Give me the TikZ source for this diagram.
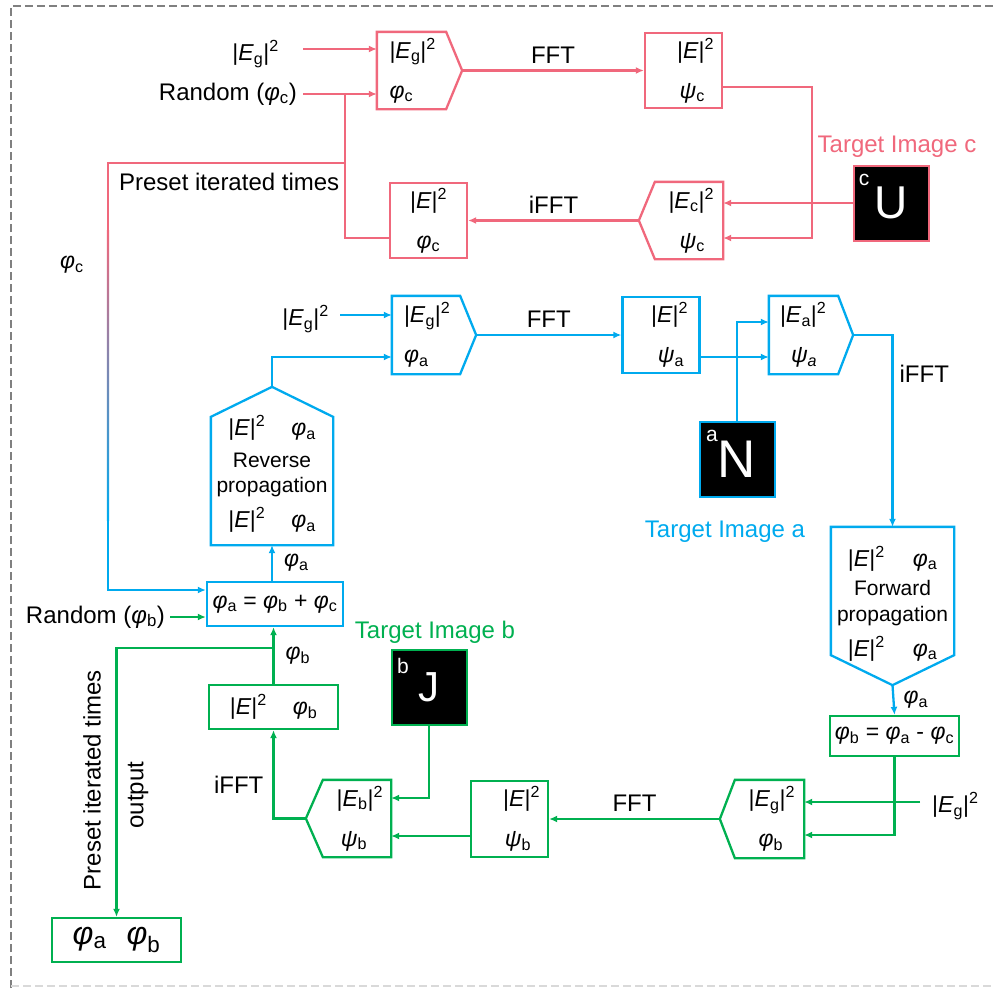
\documentclass[tikz,border=0pt]{standalone}
\usepackage{fontspec}
\setmainfont{Liberation Sans}
\usepackage{tikz}
\usetikzlibrary{arrows.meta,positioning,calc}
\definecolor{pk}{RGB}{240,104,124}
\definecolor{bl}{RGB}{0,170,238}
\definecolor{gr}{RGB}{0,176,80}
\newcommand{\phis}[1]{\textit{φ}\textsubscript{#1}}
\newcommand{\psis}[1]{\textit{ψ}\textsubscript{#1}}
\newcommand{\Esq}[1]{|\textit{E}\textsubscript{#1}|\textsuperscript{2}}
\newcommand{\Eabs}{|\textit{E}|\textsuperscript{2}}
\begin{document}
\begin{tikzpicture}[x=1pt,y=-1pt,line width=2.3pt,>={Latex[length=8pt,width=7pt]},
  every node/.style={font=\fontsize{23}{27}\selectfont,inner sep=1pt,text=black},
  lab/.style={font=\fontsize{24}{28}\selectfont},
  box/.style={minimum width=77,minimum height=75},
  pkb/.style={box,draw=pk}, blb/.style={box,draw=bl}, grb/.style={box,draw=gr},
  tgt/.style={fill=black,minimum size=75,text=white,line width=2pt,font=\fontsize{46}{50}\selectfont},
  tlet/.style={text=white,font=\fontsize{21}{24}\selectfont}]
  \useasboundingbox (0,0) rectangle (995,988);
  \draw[gray,line width=2.6pt,dash pattern=on 8pt off 4pt] (11,988) -- (11,6) -- (995,6);
  \draw[gray!30,line width=2pt,dash pattern=on 8pt off 4pt] (11,986) -- (995,986);

  \node[box,text width=60pt,align=left,minimum width=83] (c1) at (419.5,70.5) {\Esq{g}\\[13pt]\phis{c}};
  \node[pkb,text width=61pt,align=right] (c2) at (683.5,70.5) {\Eabs\\[13pt]\psis{c}\hspace*{9pt}};
  \node[box,text width=66pt,align=right,minimum width=82] (c4) at (681,220.5) {\Esq{c}\\[13pt]\psis{c}\hspace*{9pt}};
  \node[pkb,align=center] (c3) at (428.5,220.5) {\Eabs\\[13pt]\phis{c}};
  \node[tgt,draw=pk] (tc) at (891.5,203) {U};
  \node[tlet] (tcs) at (864,180) {c};
  \node[lab,text=pk] (tcn) at (897,147) {Target Image c};
  \node[anchor=east] (ig1) at (281,54) {\Esq{g}};
  \node[lab,anchor=east] (r1) at (299,94) {Random (\phis{c})};
  \node[lab,anchor=west] (pit1) at (117,182) {Preset iterated times};
  \node (phc) at (72,265) {\phis{c}};
  \coordinate (j1) at (345,94); \coordinate (j2) at (345,163);
  \draw[pk] (c1.north west) -- ($(c1.north east)+(-16,0)$) -- (c1.east) -- ($(c1.south east)+(-16,0)$) -- (c1.south west) -- cycle;
  \draw[pk] (c4.north east) -- ($(c4.north west)+(16,0)$) -- (c4.west) -- ($(c4.south west)+(16,0)$) -- (c4.south east) -- cycle;
  \draw[pk,->] (c1.east) -- (c2.west) node[lab,midway,above=5pt]{FFT};
  \draw[pk,->] ($(c2.east)+(0,16.5)$) -| ($(c4.east)+(89,17.5)$) -- ($(c4.east)+(0,17.5)$);
  \draw[pk,->] (tc.west) -- (tc.west -| c4.east);
  \draw[pk,->] (c4.west) -- (c3.east) node[lab,midway,above=5pt]{iFFT};
  \draw[pk] ($(c3.west)+(0,17.5)$) -| (j1);
  \draw[pk,->] ([xshift=4pt]r1.east) -- (r1.east -| c1.west);
  \draw[pk,->] ([xshift=22pt,yshift=5pt]ig1.east) -- ([yshift=5pt]ig1.east -| c1.west);
  \draw[pk] (j2) -| (108,230);
  \shade[top color=pk,bottom color=bl] (106.85,230) rectangle (109.15,520);

  \node[box,text width=60pt,align=left,minimum width=82,minimum height=76] (a1) at (434,335) {\Esq{g}\\[13pt]\phis{a}};
  \node[blb,text width=54pt,align=right,minimum height=76] (a2) at (661,335) {\Eabs\\[13pt]\psis{a}\hspace*{4pt}};
  \node[box,text width=62pt,align=left,minimum width=82,minimum height=76] (a3) at (811,335) {\Esq{a}\\[13pt]\hspace*{11pt}\textit{ψ\textsubscript{a}}};
  \node[tgt,draw=bl,font=\fontsize{53}{56}\selectfont] (ta) at (737,459.5) {N};
  \node[tlet] (tas) at (712,436) {a};
  \node[lab,text=bl] (tan) at (725,532) {Target Image a};
  \node[anchor=east] (ig2) at (331,319) {\Esq{g}};
  \node[box,minimum width=120,minimum height=156,align=center] (rp) at (272,466)
    {\rule{0pt}{36pt}\Eabs\hspace{26pt}\phis{a}\\[5pt]{\fontsize{21}{24}\selectfont Reverse}\\[-2pt]{\fontsize{21}{24}\selectfont propagation}\\[8pt]\Eabs\hspace{26pt}\phis{a}};
  \node[box,minimum width=121,minimum height=156,align=center] (fp) at (892.5,606)
    {\Eabs\hspace{28pt}\phis{a}\\[2pt]{\fontsize{21}{24}\selectfont Forward}\\[-1pt]{\fontsize{21}{24}\selectfont propagation}\\[8pt]\Eabs\hspace{28pt}\phis{a}\rule[-10pt]{0pt}{10pt}};
  \node[blb,minimum width=136,minimum height=44] (pa) at (275,604) {\phis{a} = \phis{b} + \phis{c}};
  \draw[bl] (a1.north west) -- ($(a1.north east)+(-16,0)$) -- (a1.east) -- ($(a1.south east)+(-16,0)$) -- (a1.south west) -- cycle;
  \draw[bl] (a3.north west) -- ($(a3.north east)+(-15,0)$) -- (a3.east) -- ($(a3.south east)+(-15,0)$) -- (a3.south west) -- cycle;
  \draw[bl] (rp.south west) -- ($(rp.north west)+(0,30)$) -- (rp.north) -- ($(rp.north east)+(0,30)$) -- (rp.south east) -- cycle;
  \draw[bl] (fp.north west) -- (fp.north east) -- ($(fp.south east)+(0,-30)$) -- (fp.south) -- ($(fp.south west)+(0,-30)$) -- cycle;
  \draw[bl,->] (108,520) |- ($(pa.west)+(0,-14)$);
  \draw[bl,->] (a1.east) -- (a2.west) node[lab,midway,above=5pt]{FFT};
  \draw[bl,->] ($(a2.east)+(0,22)$) -- ($(a3.west)+(0,22)$);
  \draw[bl,->] (ta.north) |- ($(a3.west)+(0,-13)$);
  \draw[bl,->] (a3.east) -| (fp.north) node[lab,pos=0.6,right=5pt]{iFFT};
  \draw[bl,->] (rp.north) |- ($(a1.west)+(0,22)$);
  \draw[bl,->] ([xshift=9pt,yshift=4pt]ig2.east) -- ([yshift=4pt]ig2.east -| a1.west);
  \draw[bl,->] (rp.south |- pa.north) -- (rp.south) node[midway,right=10pt]{\phis{a}};

  \node[grb,minimum width=129,minimum height=40] (pb) at (894.5,736) {\phis{b} = \phis{a} - \phis{c}};
  \node[box,text width=66pt,align=right,minimum width=82,minimum height=76] (g2) at (762,819) {\Esq{g}\\[13pt]\phis{b}\hspace*{12pt}};
  \node[grb,text width=61pt,align=right,minimum height=76] (g1) at (509.5,819) {\Eabs\\[13pt]\psis{b}\hspace*{9pt}};
  \node[box,text width=69pt,align=right,minimum width=83] (g0) at (348.5,818.5) {\Esq{b}\\[13pt]\psis{b}\hspace*{16pt}};
  \node[grb,minimum width=129,minimum height=44] (e2) at (273.5,707) {\Eabs\hspace{26pt}\phis{b}};
  \node[grb,minimum width=129,minimum height=44,font=\fontsize{32}{36}\selectfont] (out) at (116.5,940) {\phis{a}\hspace{20pt}\phis{b}};
  \node[tgt,draw=gr,font=\fontsize{42}{46}\selectfont] (tb) at (429,687.5) {J};
  \node[tlet] (tbs) at (403,666) {b};
  \node[lab,text=gr] (tbn) at (435,632) {Target Image b};
  \node[anchor=west] (ig3) at (930,806) {\Esq{g}};
  \node[lab,anchor=east] (r2) at (167,617) {Random (\phis{b})};
  \node[lab,rotate=90] (pit2) at (92,780) {Preset iterated times};
  \node[lab,rotate=90] (op) at (138,795) {output};
  \coordinate (j3) at (273.5,648);
  \draw[gr] (g2.north east) -- ($(g2.north west)+(15,0)$) -- (g2.west) -- ($(g2.south west)+(15,0)$) -- (g2.south east) -- cycle;
  \draw[gr] (g0.north east) -- ($(g0.north west)+(17,0)$) -- (g0.west) -- ($(g0.south west)+(17,0)$) -- (g0.south east) -- cycle;
  \draw[bl,->] (fp.south) -- (pb.north) node[midway,right=8pt]{\phis{a}};
  \draw[gr,->] (pb.south) |- ($(g2.east)+(0,16)$);
  \draw[gr,->] ([xshift=-10pt,yshift=4pt]ig3.west) -- ([yshift=4pt]ig3.west -| g2.east);
  \draw[gr,->] (g2.west) -- (g1.east) node[lab,midway,above=5pt]{FFT};
  \draw[gr,->] ($(g1.west)+(0,17)$) -- ($(g0.east)+(0,17.5)$);
  \draw[gr,->] (tb.south) |- ($(g0.east)+(0,-20.5)$);
  \draw[gr,->] (g0.west) -| (e2.south) node[lab,pos=0.69,left=8pt]{iFFT};
  \draw[gr,->] (e2.north) -- (e2.north |- pa.south) node[midway,right=10pt]{\phis{b}};
  \draw[gr,->] (j3) -| (out.north);
  \draw[gr,->] ([xshift=3pt]r2.east) -- (r2.east -| pa.west);
\end{tikzpicture}
\end{document}
